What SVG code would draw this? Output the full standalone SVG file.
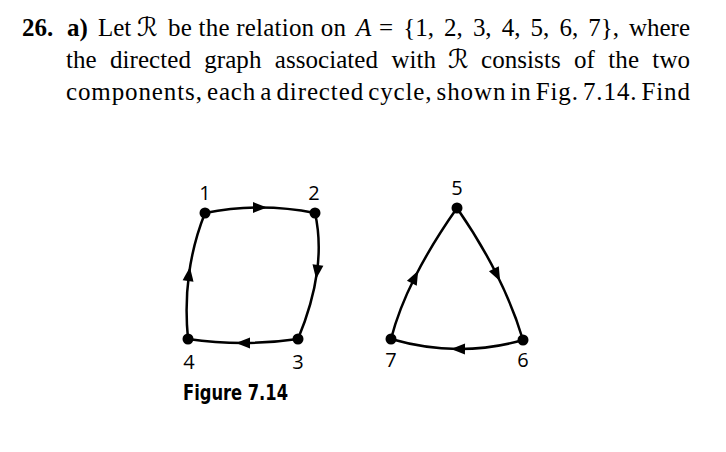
<svg xmlns="http://www.w3.org/2000/svg" width="726" height="452" viewBox="0 0 726 452">
<defs>
<marker id="arr" markerUnits="userSpaceOnUse" markerWidth="16" markerHeight="16" viewBox="-8 -8 16 16" refX="0" refY="0" orient="auto">
<path d="M7,0 L-7,-5.5 L-7,5.5 Z" fill="#000"/>
</marker>
</defs>
<style>
.t{font-family:"Liberation Serif","DejaVu Serif",serif;font-size:25px;fill:#000}
.b{font-weight:bold}
.i{font-style:italic}
.sc{font-family:"DejaVu Sans","DejaVu Serif",serif;font-size:26px;fill:#000}
.lbl{font-family:"Open Sans","Noto Sans",sans-serif;font-size:20px;fill:#000;text-anchor:middle}
.cap{font-family:"DejaVu Sans Condensed","DejaVu Sans",sans-serif;font-weight:bold;font-size:21px;fill:#000}
.e{fill:none;stroke:#000;stroke-width:2.5;marker-mid:url(#arr)}
.dot{fill:#000}
</style>
<rect width="726" height="452" fill="#fff"/>
<g id="problem-text">
<text class="t b" x="22" y="36">26.</text>
<text class="t b" x="67" y="36">a)</text>
<text class="t" x="98" y="36">Let</text>
<text class="sc" x="137" y="36">ℛ</text>
<text class="t" x="168" y="36" textLength="178" lengthAdjust="spacing">be the relation on</text>
<text class="t i" x="356" y="36">A</text>
<text class="t" x="379" y="36" word-spacing="4" textLength="311" lengthAdjust="spacing">= {1, 2, 3, 4, 5, 6, 7}, where</text>
<text class="t" x="66" y="68" word-spacing="7" textLength="370" lengthAdjust="spacing">the directed graph associated with</text>
<text class="sc" x="448" y="68">ℛ</text>
<text class="t" x="481" y="68" word-spacing="7" textLength="209" lengthAdjust="spacing">consists of the two</text>
<text class="t" x="66" y="100" word-spacing="-3" textLength="624" lengthAdjust="spacing">components, each a directed cycle, shown in Fig. 7.14. Find</text>
</g>
<g id="connectors">
<path class="e" d="M205,213 Q232.5,207.5 260,207.5 Q287.5,207.5 315,213"/>
<path class="e" d="M315,213 Q321.25,240.5 317,272 Q312.75,303.5 298,339"/>
<path class="e" d="M298,339 Q270.5,343 243,343 Q215.5,343 188,339"/>
<path class="e" d="M188,339 Q184.75,305.5 189,274 Q193.25,242.5 205,213"/>
<path class="e" d="M457,208 Q480.5,242 497,275 Q513.5,308 523,340"/>
<path class="e" d="M523,340 Q491,349.25 458,349 Q425,348.75 391,339"/>
<path class="e" d="M391,339 Q398.5,309.75 415,277 Q431.5,244.25 457,208"/>
</g>
<g id="node-1"><circle class="dot" cx="205" cy="213" r="5.5"/><text class="lbl" x="205" y="200">1</text></g>
<g id="node-2"><circle class="dot" cx="315" cy="213" r="5.5"/><text class="lbl" x="314" y="200">2</text></g>
<g id="node-3"><circle class="dot" cx="298" cy="339" r="5.5"/><text class="lbl" x="298" y="369">3</text></g>
<g id="node-4"><circle class="dot" cx="188" cy="339" r="5.5"/><text class="lbl" x="189" y="369">4</text></g>
<g id="node-5"><circle class="dot" cx="457" cy="208" r="5.5"/><text class="lbl" x="457" y="195">5</text></g>
<g id="node-6"><circle class="dot" cx="523" cy="340" r="5.5"/><text class="lbl" x="523" y="367">6</text></g>
<g id="node-7"><circle class="dot" cx="391" cy="339" r="5.5"/><text class="lbl" x="391" y="367">7</text></g>
<g id="caption"><text class="cap" x="183" y="400" textLength="105" lengthAdjust="spacingAndGlyphs">Figure 7.14</text></g>
</svg>
